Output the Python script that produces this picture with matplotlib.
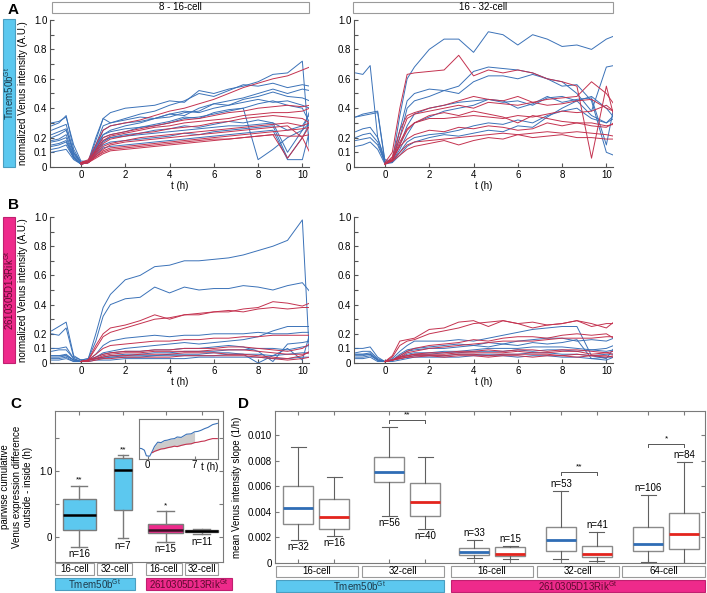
import numpy as np
import matplotlib
matplotlib.use('Agg')
import matplotlib.pyplot as plt
from matplotlib.patches import Rectangle

plt.rcParams['font.family'] = ['Liberation Sans', 'DejaVu Sans']
plt.rcParams['mathtext.fontset'] = 'custom'
plt.rcParams['mathtext.rm'] = 'Liberation Sans'

# time grid of the traces (h)
t = [-1.33, -1, -0.67, -0.33, 0, 0.33, 0.67, 1, 1.33, 2, 2.67, 3.33, 4,
     4.67, 5.33, 6, 6.67, 7.33, 8, 8.67, 9.33, 10, 10.33]

# A, 8-16 cell, Tmem50b (blue: full traces, red: from t=0)
a1_blue = [
    [0.30, 0.31, 0.34, 0.15, 0.04, 0.04, 0.20, 0.33, 0.37, 0.40, 0.41, 0.42, 0.45, 0.44, 0.52, 0.50, 0.53, 0.55, 0.58, 0.63, 0.64, 0.72, 0.10],
    [0.28, 0.30, 0.35, 0.12, 0.03, 0.03, 0.15, 0.28, 0.30, 0.33, 0.36, 0.38, 0.42, 0.45, 0.50, 0.48, 0.52, 0.56, 0.55, 0.57, 0.54, 0.56, 0.55],
    [0.20, 0.22, 0.25, 0.10, 0.03, 0.04, 0.14, 0.22, 0.25, 0.28, 0.30, 0.33, 0.36, 0.35, 0.40, 0.43, 0.42, 0.46, 0.48, 0.51, 0.48, 0.47, 0.45],
    [0.18, 0.19, 0.22, 0.08, 0.03, 0.03, 0.12, 0.20, 0.22, 0.24, 0.27, 0.29, 0.31, 0.34, 0.33, 0.37, 0.39, 0.40, 0.05, 0.12, 0.20, 0.25, 0.30],
    [0.15, 0.16, 0.18, 0.07, 0.02, 0.03, 0.10, 0.17, 0.20, 0.22, 0.23, 0.25, 0.26, 0.28, 0.27, 0.29, 0.31, 0.30, 0.32, 0.30, 0.10, 0.25, 0.38],
    [0.12, 0.13, 0.15, 0.06, 0.02, 0.03, 0.09, 0.15, 0.17, 0.18, 0.19, 0.20, 0.21, 0.23, 0.22, 0.24, 0.25, 0.26, 0.27, 0.28, 0.06, 0.20, 0.30],
    [0.22, 0.24, 0.26, 0.09, 0.03, 0.04, 0.13, 0.25, 0.28, 0.30, 0.31, 0.33, 0.34, 0.37, 0.38, 0.43, 0.45, 0.47, 0.50, 0.53, 0.50, 0.53, 0.52],
    [0.10, 0.11, 0.12, 0.05, 0.02, 0.03, 0.08, 0.13, 0.14, 0.15, 0.16, 0.17, 0.18, 0.19, 0.20, 0.21, 0.22, 0.23, 0.24, 0.25, 0.05, 0.05, 0.25],
    [0.25, 0.27, 0.29, 0.10, 0.03, 0.03, 0.12, 0.22, 0.24, 0.26, 0.27, 0.28, 0.30, 0.33, 0.34, 0.36, 0.38, 0.40, 0.43, 0.45, 0.42, 0.40, 0.30],
    [0.17, 0.18, 0.20, 0.07, 0.02, 0.03, 0.11, 0.18, 0.20, 0.21, 0.22, 0.23, 0.24, 0.25, 0.26, 0.27, 0.28, 0.28, 0.29, 0.30, 0.25, 0.28, 0.36],
    [0.14, 0.15, 0.17, 0.06, 0.02, 0.03, 0.18, 0.33, 0.30, 0.32, 0.34, 0.33, 0.36, 0.38, 0.37, 0.40, 0.42, 0.44, 0.46, 0.44, 0.45, 0.42, 0.40],
]
a1_red = [
    [0.03, 0.05, 0.15, 0.25, 0.28, 0.30, 0.32, 0.35, 0.38, 0.40, 0.43, 0.46, 0.50, 0.54, 0.57, 0.60, 0.62, 0.66, 0.68],
    [0.03, 0.04, 0.12, 0.20, 0.22, 0.24, 0.26, 0.28, 0.30, 0.32, 0.33, 0.35, 0.37, 0.38, 0.40, 0.41, 0.42, 0.41, 0.42],
    [0.03, 0.04, 0.11, 0.18, 0.21, 0.23, 0.25, 0.27, 0.28, 0.30, 0.31, 0.32, 0.33, 0.35, 0.36, 0.37, 0.37, 0.38, 0.40],
    [0.03, 0.04, 0.09, 0.14, 0.16, 0.18, 0.20, 0.21, 0.22, 0.23, 0.24, 0.25, 0.26, 0.27, 0.28, 0.29, 0.30, 0.28, 0.30],
    [0.02, 0.03, 0.07, 0.11, 0.13, 0.14, 0.15, 0.16, 0.17, 0.18, 0.19, 0.20, 0.21, 0.22, 0.23, 0.24, 0.25, 0.26, 0.27],
    [0.02, 0.03, 0.06, 0.09, 0.11, 0.12, 0.13, 0.14, 0.15, 0.16, 0.17, 0.18, 0.19, 0.20, 0.21, 0.22, 0.06, 0.20, 0.28],
    [0.02, 0.03, 0.08, 0.12, 0.15, 0.17, 0.18, 0.19, 0.20, 0.21, 0.22, 0.23, 0.24, 0.25, 0.26, 0.27, 0.28, 0.20, 0.10],
    [0.02, 0.03, 0.07, 0.10, 0.12, 0.13, 0.14, 0.15, 0.16, 0.17, 0.18, 0.19, 0.19, 0.20, 0.21, 0.22, 0.21, 0.21, 0.22],
    [0.03, 0.04, 0.10, 0.16, 0.19, 0.21, 0.23, 0.24, 0.26, 0.27, 0.28, 0.30, 0.31, 0.33, 0.34, 0.35, 0.34, 0.33, 0.30],
]

# A, 16-32 cell
a2_blue = [
    [0.64, 0.63, 0.69, 0.20, 0.05, 0.04, 0.35, 0.60, 0.68, 0.80, 0.87, 0.87, 0.78, 0.92, 0.90, 0.83, 0.90, 0.87, 0.82, 0.83, 0.80, 0.87, 0.89],
    [0.34, 0.35, 0.36, 0.37, 0.03, 0.03, 0.25, 0.45, 0.50, 0.53, 0.52, 0.55, 0.65, 0.68, 0.67, 0.66, 0.64, 0.60, 0.58, 0.50, 0.38, 0.68, 0.69],
    [0.34, 0.36, 0.37, 0.38, 0.04, 0.04, 0.20, 0.40, 0.45, 0.48, 0.52, 0.50, 0.58, 0.62, 0.62, 0.60, 0.63, 0.60, 0.55, 0.56, 0.45, 0.10, 0.08],
    [0.24, 0.26, 0.27, 0.20, 0.03, 0.04, 0.15, 0.28, 0.36, 0.40, 0.42, 0.44, 0.45, 0.46, 0.44, 0.45, 0.42, 0.47, 0.48, 0.45, 0.35, 0.30, 0.33],
    [0.20, 0.22, 0.23, 0.17, 0.03, 0.04, 0.12, 0.22, 0.30, 0.34, 0.38, 0.40, 0.42, 0.46, 0.45, 0.40, 0.43, 0.48, 0.44, 0.46, 0.47, 0.15, 0.40],
    [0.18, 0.19, 0.20, 0.15, 0.03, 0.04, 0.10, 0.17, 0.20, 0.22, 0.23, 0.25, 0.28, 0.30, 0.29, 0.32, 0.30, 0.35, 0.38, 0.40, 0.33, 0.30, 0.35],
    [0.14, 0.15, 0.17, 0.12, 0.02, 0.03, 0.08, 0.14, 0.17, 0.20, 0.22, 0.21, 0.23, 0.25, 0.24, 0.28, 0.27, 0.34, 0.40, 0.45, 0.48, 0.40, 0.34],
]
a2_red = [
    [0.03, 0.10, 0.40, 0.63, 0.64, 0.65, 0.66, 0.76, 0.62, 0.66, 0.64, 0.66, 0.64, 0.60, 0.58, 0.55, 0.06, 0.55, 0.35],
    [0.02, 0.07, 0.25, 0.35, 0.37, 0.40, 0.42, 0.45, 0.48, 0.46, 0.45, 0.48, 0.44, 0.46, 0.47, 0.48, 0.58, 0.50, 0.43],
    [0.02, 0.06, 0.20, 0.33, 0.36, 0.38, 0.40, 0.42, 0.40, 0.44, 0.43, 0.42, 0.44, 0.42, 0.43, 0.45, 0.46, 0.40, 0.38],
    [0.02, 0.05, 0.17, 0.26, 0.30, 0.33, 0.33, 0.34, 0.35, 0.34, 0.33, 0.35, 0.34, 0.36, 0.38, 0.37, 0.38, 0.42, 0.38],
    [0.02, 0.05, 0.14, 0.19, 0.22, 0.25, 0.24, 0.27, 0.26, 0.28, 0.27, 0.25, 0.26, 0.30, 0.28, 0.30, 0.30, 0.28, 0.29],
    [0.02, 0.04, 0.10, 0.15, 0.17, 0.18, 0.19, 0.20, 0.21, 0.22, 0.23, 0.22, 0.23, 0.24, 0.23, 0.24, 0.23, 0.22, 0.21],
    [0.02, 0.04, 0.08, 0.12, 0.14, 0.16, 0.18, 0.15, 0.18, 0.20, 0.19, 0.22, 0.20, 0.21, 0.22, 0.20, 0.20, 0.19, 0.19],
    [0.02, 0.05, 0.15, 0.25, 0.30, 0.35, 0.37, 0.35, 0.38, 0.36, 0.34, 0.30, 0.35, 0.33, 0.31, 0.30, 0.28, 0.27, 0.30],
]

# B, 2610305D13Rik, 8-16 cell
b1_blue = [
    [0.22, 0.25, 0.28, 0.05, 0.02, 0.03, 0.20, 0.38, 0.47, 0.57, 0.60, 0.66, 0.67, 0.70, 0.70, 0.71, 0.72, 0.74, 0.77, 0.80, 0.84, 0.98, 0.02],
    [0.20, 0.19, 0.24, 0.04, 0.02, 0.03, 0.15, 0.32, 0.40, 0.44, 0.45, 0.52, 0.48, 0.52, 0.50, 0.51, 0.51, 0.53, 0.52, 0.50, 0.53, 0.55, 0.49],
    [0.08, 0.09, 0.09, 0.03, 0.01, 0.02, 0.06, 0.12, 0.15, 0.17, 0.18, 0.19, 0.18, 0.19, 0.19, 0.20, 0.20, 0.20, 0.21, 0.20, 0.20, 0.21, 0.21],
    [0.05, 0.05, 0.06, 0.02, 0.01, 0.02, 0.04, 0.07, 0.08, 0.10, 0.11, 0.12, 0.13, 0.14, 0.13, 0.14, 0.15, 0.16, 0.18, 0.22, 0.25, 0.25, 0.25],
    [0.05, 0.05, 0.05, 0.02, 0.01, 0.02, 0.03, 0.04, 0.04, 0.05, 0.05, 0.05, 0.06, 0.06, 0.06, 0.07, 0.07, 0.06, 0.00, 0.05, 0.10, 0.02, 0.20],
    [0.03, 0.03, 0.04, 0.01, 0.01, 0.02, 0.03, 0.03, 0.04, 0.04, 0.04, 0.05, 0.05, 0.05, 0.05, 0.05, 0.06, 0.06, 0.06, 0.05, 0.06, 0.07, 0.07],
    [0.04, 0.04, 0.05, 0.02, 0.01, 0.02, 0.03, 0.04, 0.05, 0.06, 0.06, 0.07, 0.07, 0.08, 0.08, 0.08, 0.09, 0.09, 0.10, 0.10, 0.09, 0.11, 0.12],
    [0.02, 0.02, 0.03, 0.01, 0.01, 0.01, 0.02, 0.02, 0.02, 0.03, 0.03, 0.03, 0.03, 0.03, 0.04, 0.04, 0.04, 0.04, 0.04, 0.03, 0.03, 0.04, 0.04],
    [0.10, 0.10, 0.11, 0.03, 0.01, 0.02, 0.04, 0.06, 0.07, 0.08, 0.08, 0.09, 0.09, 0.10, 0.10, 0.11, 0.12, 0.11, 0.08, 0.01, 0.13, 0.14, 0.15],
]
b1_red = [
    [0.01, 0.02, 0.12, 0.20, 0.24, 0.26, 0.29, 0.33, 0.30, 0.33, 0.34, 0.35, 0.35, 0.37, 0.38, 0.42, 0.41, 0.39, 0.41],
    [0.01, 0.02, 0.10, 0.18, 0.21, 0.24, 0.27, 0.30, 0.31, 0.33, 0.33, 0.35, 0.36, 0.35, 0.37, 0.38, 0.37, 0.38, 0.38],
    [0.01, 0.02, 0.06, 0.10, 0.12, 0.13, 0.14, 0.15, 0.15, 0.16, 0.16, 0.17, 0.17, 0.18, 0.18, 0.19, 0.19, 0.19, 0.19],
    [0.01, 0.02, 0.04, 0.06, 0.07, 0.08, 0.08, 0.09, 0.09, 0.10, 0.10, 0.10, 0.11, 0.11, 0.10, 0.09, 0.08, 0.10, 0.13],
    [0.01, 0.02, 0.03, 0.04, 0.05, 0.05, 0.06, 0.06, 0.06, 0.07, 0.07, 0.07, 0.06, 0.06, 0.05, 0.04, 0.03, 0.05, 0.08],
    [0.01, 0.01, 0.02, 0.03, 0.03, 0.04, 0.04, 0.04, 0.04, 0.05, 0.05, 0.05, 0.05, 0.05, 0.04, 0.03, 0.02, 0.03, 0.04],
    [0.01, 0.02, 0.03, 0.05, 0.06, 0.07, 0.07, 0.08, 0.08, 0.08, 0.08, 0.09, 0.09, 0.09, 0.08, 0.07, 0.06, 0.06, 0.07],
]

# B, 16-32 cell
b2_blue = [
    [0.10, 0.10, 0.11, 0.04, 0.01, 0.03, 0.08, 0.12, 0.15, 0.15, 0.15, 0.16, 0.15, 0.17, 0.19, 0.21, 0.23, 0.24, 0.25, 0.25, 0.05, 0.03, 0.10],
    [0.07, 0.08, 0.08, 0.03, 0.01, 0.02, 0.06, 0.09, 0.10, 0.11, 0.12, 0.13, 0.12, 0.14, 0.13, 0.15, 0.16, 0.17, 0.17, 0.15, 0.16, 0.15, 0.17],
    [0.06, 0.06, 0.07, 0.02, 0.01, 0.02, 0.05, 0.08, 0.09, 0.10, 0.10, 0.11, 0.12, 0.11, 0.13, 0.12, 0.14, 0.13, 0.14, 0.16, 0.03, 0.02, 0.04],
    [0.05, 0.05, 0.06, 0.02, 0.01, 0.02, 0.04, 0.05, 0.06, 0.06, 0.07, 0.07, 0.08, 0.08, 0.08, 0.09, 0.08, 0.09, 0.09, 0.08, 0.09, 0.08, 0.09],
    [0.04, 0.04, 0.05, 0.02, 0.01, 0.02, 0.03, 0.04, 0.05, 0.05, 0.05, 0.06, 0.06, 0.06, 0.06, 0.06, 0.07, 0.07, 0.06, 0.06, 0.05, 0.06, 0.06],
    [0.03, 0.03, 0.04, 0.01, 0.01, 0.01, 0.02, 0.03, 0.04, 0.04, 0.04, 0.04, 0.05, 0.05, 0.05, 0.04, 0.05, 0.05, 0.04, 0.04, 0.03, 0.04, 0.04],
    [0.06, 0.06, 0.06, 0.02, 0.01, 0.02, 0.04, 0.06, 0.07, 0.07, 0.08, 0.08, 0.09, 0.10, 0.10, 0.10, 0.11, 0.11, 0.11, 0.10, 0.09, 0.10, 0.12],
]
b2_red = [
    [0.01, 0.05, 0.15, 0.16, 0.17, 0.23, 0.24, 0.28, 0.29, 0.25, 0.29, 0.27, 0.24, 0.26, 0.27, 0.29, 0.25, 0.27, 0.27],
    [0.01, 0.04, 0.12, 0.15, 0.16, 0.20, 0.22, 0.24, 0.27, 0.28, 0.29, 0.27, 0.28, 0.26, 0.27, 0.29, 0.27, 0.24, 0.28],
    [0.01, 0.02, 0.05, 0.08, 0.10, 0.12, 0.13, 0.14, 0.16, 0.15, 0.17, 0.18, 0.18, 0.17, 0.19, 0.20, 0.19, 0.20, 0.17],
    [0.01, 0.02, 0.04, 0.07, 0.08, 0.10, 0.11, 0.12, 0.13, 0.14, 0.15, 0.15, 0.15, 0.16, 0.17, 0.17, 0.17, 0.18, 0.18],
    [0.01, 0.02, 0.04, 0.05, 0.06, 0.06, 0.06, 0.07, 0.07, 0.07, 0.07, 0.08, 0.07, 0.07, 0.08, 0.08, 0.06, 0.07, 0.06],
    [0.01, 0.02, 0.03, 0.04, 0.05, 0.05, 0.05, 0.06, 0.06, 0.05, 0.06, 0.06, 0.06, 0.06, 0.05, 0.06, 0.05, 0.05, 0.04],
    [0.01, 0.02, 0.03, 0.04, 0.04, 0.05, 0.04, 0.05, 0.05, 0.04, 0.05, 0.05, 0.04, 0.05, 0.05, 0.04, 0.05, 0.04, 0.05],
    [0.01, 0.02, 0.04, 0.05, 0.06, 0.07, 0.07, 0.08, 0.08, 0.09, 0.08, 0.09, 0.09, 0.08, 0.09, 0.09, 0.08, 0.07, 0.08],
]

# C inset example traces
ins_t = [-1.3, -0.9, -0.5, -0.2, 0.3, 0.7, 1.0, 1.5, 2.0, 2.5, 2.9, 3.5, 4.0, 4.4,
         5.0, 5.5, 5.8, 6.5, 7.0, 7.5, 8.0, 8.5, 9.0, 9.7, 10.4]
ins_blue = [0.27, 0.26, 0.22, 0.08, 0.07, 0.20, 0.31, 0.42, 0.41, 0.46, 0.47, 0.50, 0.51, 0.55,
            0.54, 0.59, 0.62, 0.63, 0.68, 0.69, 0.72, 0.76, 0.79, 0.86, 0.89]
ins_red = [0.16, 0.19, 0.22, 0.25, 0.26, 0.28, 0.30, 0.32, 0.31, 0.34, 0.36, 0.37, 0.38,
           0.41, 0.42, 0.44, 0.45, 0.48, 0.51, 0.51]

# C box statistics
c_med = [0.34, 1.02, 0.10, 0.09]
c_q1 = [0.10, 0.41, 0.06, 0.07]
c_q3 = [0.58, 1.20, 0.20, 0.11]
c_lo = [-0.15, -0.02, -0.08, 0.04]
c_hi = [0.78, 1.24, 0.39, 0.12]
c_n = [16, 7, 15, 11]
c_sig = ['**', '**', '*', '']

# D box statistics
d_med = [0.00426, 0.00356, 0.00711, 0.00473, 0.00081, 0.00071, 0.00178, 0.00068, 0.00144, 0.00225]
d_q1 = [0.00303, 0.00264, 0.00635, 0.00363, 0.00058, 0.00050, 0.00089, 0.00044, 0.00089, 0.00107]
d_q3 = [0.00599, 0.00499, 0.00826, 0.00622, 0.00115, 0.00120, 0.00280, 0.00128, 0.00280, 0.00390]
d_lo = [0.00180, 0.00207, 0.00369, 0.00267, 0.00037, 0.00029, 0.00029, 0.00010, 0.00003, 0.0]
d_hi = [0.00905, 0.00669, 0.01064, 0.00826, 0.00180, 0.00128, 0.00559, 0.00238, 0.00528, 0.00787]
d_n = [32, 16, 56, 40, 33, 15, 53, 41, 106, 84]
d_sig = [(2, 3, '**', 0.0112), (6, 7, '**', 0.0071), (8, 9, '*', 0.0093)]

BLUE = '#3b72b8'
RED = '#c4324f'
CYAN = '#5cc8ef'
MAGENTA = '#ee2a8b'
GRAY = '#7a7a7a'
W, H = 707, 593

fig = plt.figure(figsize=(7.07, 5.93), dpi=100)


def fr(x0, y0, x1, y1):
    return [x0 / W, 1 - y1 / H, (x1 - x0) / W, (y1 - y0) / H]


def box(x0, y0, x1, y1, text, fc='white', ec='#9a9a9a', tc='black', rot=0, fs=7):
    fig.patches.append(Rectangle((x0 / W, 1 - y1 / H), (x1 - x0) / W, (y1 - y0) / H,
                                 transform=fig.transFigure, fc=fc, ec=ec, lw=0.8))
    fig.text((x0 + x1) / 2 / W, 1 - (y0 + y1) / 2 / H, text, ha='center', va='center',
             rotation=rot, fontsize=fs, color=tc)


def trace_panel(rect, blues, reds, ylabel=None):
    ax = fig.add_axes(fr(*rect))
    for tr in blues:
        ax.plot(t[-len(tr):], tr, color=BLUE, lw=0.7)
    for tr in reds:
        ax.plot(t[-len(tr):], tr, color=RED, lw=0.7)
    ax.set_xlim(-1.4, 10.3)
    ax.set_ylim(0, 1.0)
    for s in ['top', 'right']:
        ax.spines[s].set_visible(False)
    for s in ['left', 'bottom']:
        ax.spines[s].set_color('#555555')
        ax.spines[s].set_linewidth(0.8)
    ax.set_xticks([0, 2, 4, 6, 8, 10])
    ax.set_yticks(np.arange(0, 1.01, 0.1))
    ax.set_yticklabels(['0', '0.1', '0.2', '', '0.4', '', '0.6', '', '0.8', '', '1.0'])
    ax.tick_params(direction='in', length=3, labelsize=7, color='#555555', pad=2)
    ax.set_xlabel('t (h)', fontsize=7, labelpad=1)
    if ylabel:
        ax.set_ylabel(ylabel, fontsize=7, labelpad=4)
    return ax


ylab = 'normalized Venus intensity (A.U.)'
trace_panel((50, 20, 309, 167), a1_blue, a1_red, ylab)
trace_panel((354, 20, 613, 167), a2_blue, a2_red)
trace_panel((50, 217, 309, 363), b1_blue, b1_red, ylab)
trace_panel((354, 217, 613, 363), b2_blue, b2_red)

box(52, 2, 309, 13, '8 - 16-cell')
box(353, 2, 613, 13, '16 - 32-cell')
box(3, 19, 15, 167, r'Tmem50b$^{\mathrm{Gt}}$', fc=CYAN, ec='#4a9ec0', tc='#1e3a4a', rot=90)
box(3, 217, 15, 363, r'2610305D13Rik$^{\mathrm{Gt}}$', fc=MAGENTA, ec='#c02070', tc='#5c0a2e', rot=90)

for letter, x, y in [('A', 8, 10), ('B', 8, 205), ('C', 10, 404), ('D', 238, 404)]:
    fig.text(x / W, 1 - y / H, letter, fontsize=11, fontweight='bold', ha='left', va='center')

# ---- C ----
axc = fig.add_axes(fr(55, 411, 223, 562))
c_pos = [1, 2.33, 3.62, 4.71]
c_wid = [1.0, 0.55, 1.06, 1.0]
c_stats = [dict(med=c_med[i], q1=c_q1[i], q3=c_q3[i], whislo=c_lo[i], whishi=c_hi[i], fliers=[])
           for i in range(4)]
bc = axc.bxp(c_stats, positions=c_pos, widths=c_wid, patch_artist=True, showfliers=False,
             boxprops=dict(edgecolor=GRAY, lw=1.0), whiskerprops=dict(color=GRAY, lw=1.0),
             capprops=dict(color=GRAY, lw=1.0), medianprops=dict(color='black', lw=1.8))
for i, patch in enumerate(bc['boxes']):
    patch.set_facecolor(CYAN if i < 2 else MAGENTA)
bc['medians'][2].set_color('#3a1025')
for i in range(4):
    axc.text(c_pos[i], c_lo[i] - 0.11, 'n=%d' % c_n[i], ha='center', va='center', fontsize=7)
    if c_sig[i]:
        axc.text(c_pos[i], c_hi[i] + 0.03, c_sig[i], ha='center', va='bottom', fontsize=6)
axc.set_xlim(0.27, 5.36)
axc.set_ylim(-0.38, 1.91)
axc.set_yticks([0, 0.5, 1.0, 1.5])
axc.set_yticklabels(['0', '', '1.0', ''])
axc.set_xticks(c_pos)
axc.set_xticklabels([])
axc.tick_params(direction='in', length=3, labelsize=7, color=GRAY, right=True, top=True,
                bottom=False, pad=2)
for s in axc.spines.values():
    s.set_color(GRAY)
axc.set_ylabel('pairwise cumulative\nVenus expression difference\noutside - inside (h)',
               fontsize=7, labelpad=4, linespacing=1.2)

axi = fig.add_axes(fr(139, 419, 218, 459))
axi.plot(ins_t, ins_blue, color=BLUE, lw=0.8)
axi.plot(ins_t[-len(ins_red):], ins_red, color=RED, lw=0.8)
k0 = len(ins_t) - len(ins_red)
sel = [i for i in range(k0, len(ins_t)) if ins_t[i] <= 7.0]
axi.fill_between([ins_t[i] for i in sel], [ins_red[i - k0] for i in sel],
                 [ins_blue[i] for i in sel], color='#cccccc', lw=0)
axi.set_xlim(-1.3, 10.5)
axi.set_ylim(0, 1)
axi.set_xticks([0, 7])
axi.set_xticklabels(['0', '7'])
axi.set_yticks([])
axi.tick_params(direction='in', length=2, labelsize=7, color=GRAY, pad=1)
for s in axi.spines.values():
    s.set_color(GRAY)
axi.annotate('t (h)', xy=(9.2, 0), xycoords=('data', 'axes fraction'), xytext=(0, -2),
             textcoords='offset points', ha='center', va='top', fontsize=7)

box(55, 563, 94, 575, '16-cell')
box(97, 563, 132, 575, '32-cell')
box(146, 563, 182, 575, '16-cell')
box(185, 563, 218, 575, '32-cell')
box(55, 578, 135, 590, r'Tmem50b$^{\mathrm{Gt}}$', fc=CYAN, ec='#4a9ec0', tc='#1e3a4a')
box(146, 578, 232, 590, r'2610305D13Rik$^{\mathrm{Gt}}$', fc=MAGENTA, ec='#c02070', tc='#5c0a2e')

# ---- D ----
axd = fig.add_axes(fr(275, 411, 705, 563))
d_pos = [1, 2, 3.53, 4.53, 5.89, 6.89, 8.3, 9.3, 10.72, 11.72]
d_stats = [dict(med=d_med[i], q1=d_q1[i], q3=d_q3[i], whislo=d_lo[i], whishi=d_hi[i], fliers=[])
           for i in range(len(d_med))]
bd = axd.bxp(d_stats, positions=d_pos, widths=0.83, patch_artist=True, showfliers=False,
             boxprops=dict(facecolor='white', edgecolor='#8a8a8a', lw=1.0),
             whiskerprops=dict(color='#606060', lw=0.8), capprops=dict(color='#606060', lw=0.8),
             medianprops=dict(lw=2.0))
for i, med in enumerate(bd['medians']):
    med.set_color('#2f6db5' if i % 2 == 0 else '#e3241d')
for i in range(len(d_med)):
    if i < 4:
        axd.text(d_pos[i], d_lo[i] - 0.00055, 'n=%d' % d_n[i], ha='center', va='center', fontsize=7)
    else:
        axd.text(d_pos[i], d_hi[i] + 0.00055, 'n=%d' % d_n[i], ha='center', va='center', fontsize=7)
for i, j, s, h in d_sig:
    axd.plot([d_pos[i], d_pos[i], d_pos[j], d_pos[j]], [h - 0.00022, h, h, h - 0.00022],
             color='#555555', lw=0.7)
    axd.text((d_pos[i] + d_pos[j]) / 2, h + 0.0001, s, ha='center', va='bottom', fontsize=6)
axd.set_xlim(0.36, 12.3)
axd.set_ylim(-0.00003, 0.0119)
axd.set_yticks([0, 0.002, 0.004, 0.006, 0.008, 0.010])
axd.set_yticklabels(['0', '0.002', '0.004', '0.006', '0.008', '0.010'])
axd.set_xticks(d_pos)
axd.set_xticklabels([])
axd.tick_params(direction='in', length=3, labelsize=7, color=GRAY, right=True, top=True, pad=2)
for s in axd.spines.values():
    s.set_color(GRAY)
axd.set_ylabel('mean Venus intensity slope (1/h)', fontsize=7, labelpad=4)

box(276, 566, 358, 577, '16-cell')
box(362, 566, 444, 577, '32-cell')
box(451, 566, 533, 577, '16-cell')
box(537, 566, 619, 577, '32-cell')
box(622, 566, 705, 577, '64-cell')
box(276, 580, 444, 592, r'Tmem50b$^{\mathrm{Gt}}$', fc=CYAN, ec='#4a9ec0', tc='#1e3a4a')
box(451, 580, 705, 592, r'2610305D13Rik$^{\mathrm{Gt}}$', fc=MAGENTA, ec='#c02070', tc='#5c0a2e')

fig.savefig('out.png', dpi=100)
